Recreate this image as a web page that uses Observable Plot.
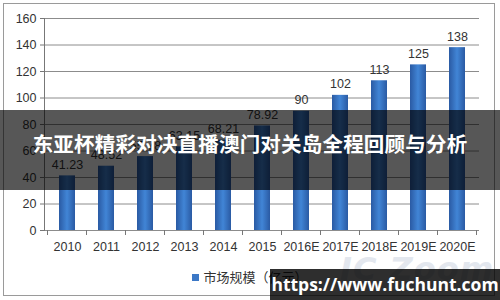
<!DOCTYPE html>
<html>
<head>
<meta charset="utf-8">
<script src="https://cdn.jsdelivr.net/npm/d3@7"></script>
<script src="https://cdn.jsdelivr.net/npm/@observablehq/plot@0.6"></script>
<style>
  html, body { margin: 0; padding: 0; background: #fff; }
  #wrap { position: relative; width: 500px; height: 300px; overflow: hidden; font-family: "Liberation Sans", "DejaVu Sans", sans-serif; }
  #border { position: absolute; left: 3px; top: 3px; width: 492px; height: 293px; border: 1px solid #9a9a9a; box-sizing: border-box; pointer-events: none; }
  #chart svg { display: block; }
  #legend { height: 40px; display: flex; align-items: center; justify-content: center; box-sizing: border-box; padding-bottom: 8px; font-family: "Noto Sans CJK SC", sans-serif; font-size: 13px; color: #333; }
  #legend .sw { width: 7px; height: 7px; background: #3c78c6; margin-right: 4px; margin-top: 2px; }
  #iczoom { position: absolute; left: 340px; top: 250px; font-family: "DejaVu Sans", sans-serif; font-weight: bold; font-style: italic; font-size: 32px; color: #e3e7ee; letter-spacing: 1px; }
  #banner { position: absolute; left: 0; top: 110px; width: 500px; height: 80px; background: rgba(0,0,0,0.66); }
  #banner .t { position: absolute; left: 0; width: 500px; top: 18px; text-align: center; color: #fff; font-family: "Noto Sans CJK SC", sans-serif; font-weight: bold; font-size: 20.5px; letter-spacing: 0.2px; }
  #wm { position: absolute; left: 270px; top: 269px; width: 230px; height: 31px; background: rgba(0,0,0,0.82); color: #fff; font-family: "Open Sans", "DejaVu Sans", sans-serif; font-weight: bold; font-size: 17.5px; line-height: 31px; text-align: center; }
</style>
</head>
<body>
<div id="wrap">
  <div id="chart"></div>
  <div id="legend"><span class="sw"></span><span id="legtext"></span></div>
  <div id="iczoom">IC Zoom</div>
  <div id="border"></div>
  <div id="banner"><div class="t" id="title"></div></div>
  <div id="wm"></div>
</div>
<script>
const categories = ["2010","2011","2012","2013","2014","2015","2016E","2017E","2018E","2019E","2020E"];
const values = [41.23, 48.52, 55.78, 63.15, 68.21, 78.92, 90, 102, 113, 125, 138];
const yTicks = [0, 20, 40, 60, 80, 100, 120, 140, 160];
const seriesName = "市场规模（亿元）";
const titleText = "东亚杯精彩对决直播澳门对关岛全程回顾与分析";
const watermark = "https://www.fuchunt.com";

const data = categories.map((c, i) => ({year: c, value: values[i]}));

const plot = Plot.plot({
  width: 500,
  height: 260,
  marginLeft: 44,
  marginRight: 21,
  marginTop: 18,
  marginBottom: 30,
  style: {fontFamily: "Liberation Sans, DejaVu Sans, sans-serif", fontSize: "12.5px", color: "#333", background: "transparent"},
  x: {domain: categories, paddingInner: 0.6, paddingOuter: 0.3, label: null},
  y: {domain: [0, 160], ticks: yTicks, label: null},
  marks: [
    Plot.ruleY(yTicks, {stroke: "#8c8c8c", strokeWidth: 1}),
    Plot.barY(data, {x: "year", y: "value", fill: "url(#barGrad)"}),
    Plot.text(data, {x: "year", y: "value", text: d => String(d.value), dy: -11, fill: "#333", fontSize: 12.5}),
    Plot.frame({anchor: "left", stroke: "#777"}),
    Plot.axisY({ticks: yTicks, tickSize: 4, tickPadding: 4, stroke: "#777", fill: "#333", fontSize: 12.5}),
    Plot.axisX({tickSize: 0, tickPadding: 12, fill: "#333", fontSize: 12.5})
  ]
});

const svg = d3.select(plot.tagName === "svg" ? plot : plot.querySelector("svg"));
const defs = svg.insert("defs", ":first-child");
const g = defs.append("linearGradient").attr("id", "barGrad").attr("x1", "0").attr("x2", "1").attr("y1", "0").attr("y2", "0");
g.append("stop").attr("offset", "0%").attr("stop-color", "#2a5aa3");
g.append("stop").attr("offset", "50%").attr("stop-color", "#4185d6");
g.append("stop").attr("offset", "100%").attr("stop-color", "#2a5aa3");

// x-axis boundary ticks via the plot's own scale
const xs = plot.scale("x");
const ys = plot.scale("y");
const y0 = ys.apply(0);
const tickG = svg.append("g").attr("stroke", "#777");
const bounds = categories.map(c => xs.apply(c) - (xs.step - xs.bandwidth) / 2);
bounds.push(xs.apply(categories[categories.length - 1]) + xs.bandwidth + (xs.step - xs.bandwidth) / 2);
bounds.forEach(b => {
  tickG.append("line").attr("x1", b).attr("x2", b).attr("y1", y0).attr("y2", y0 + 5);
});

document.getElementById("chart").appendChild(plot);
document.getElementById("legtext").textContent = seriesName;
document.getElementById("title").textContent = titleText;
document.getElementById("wm").textContent = watermark;
</script>
</body>
</html>
